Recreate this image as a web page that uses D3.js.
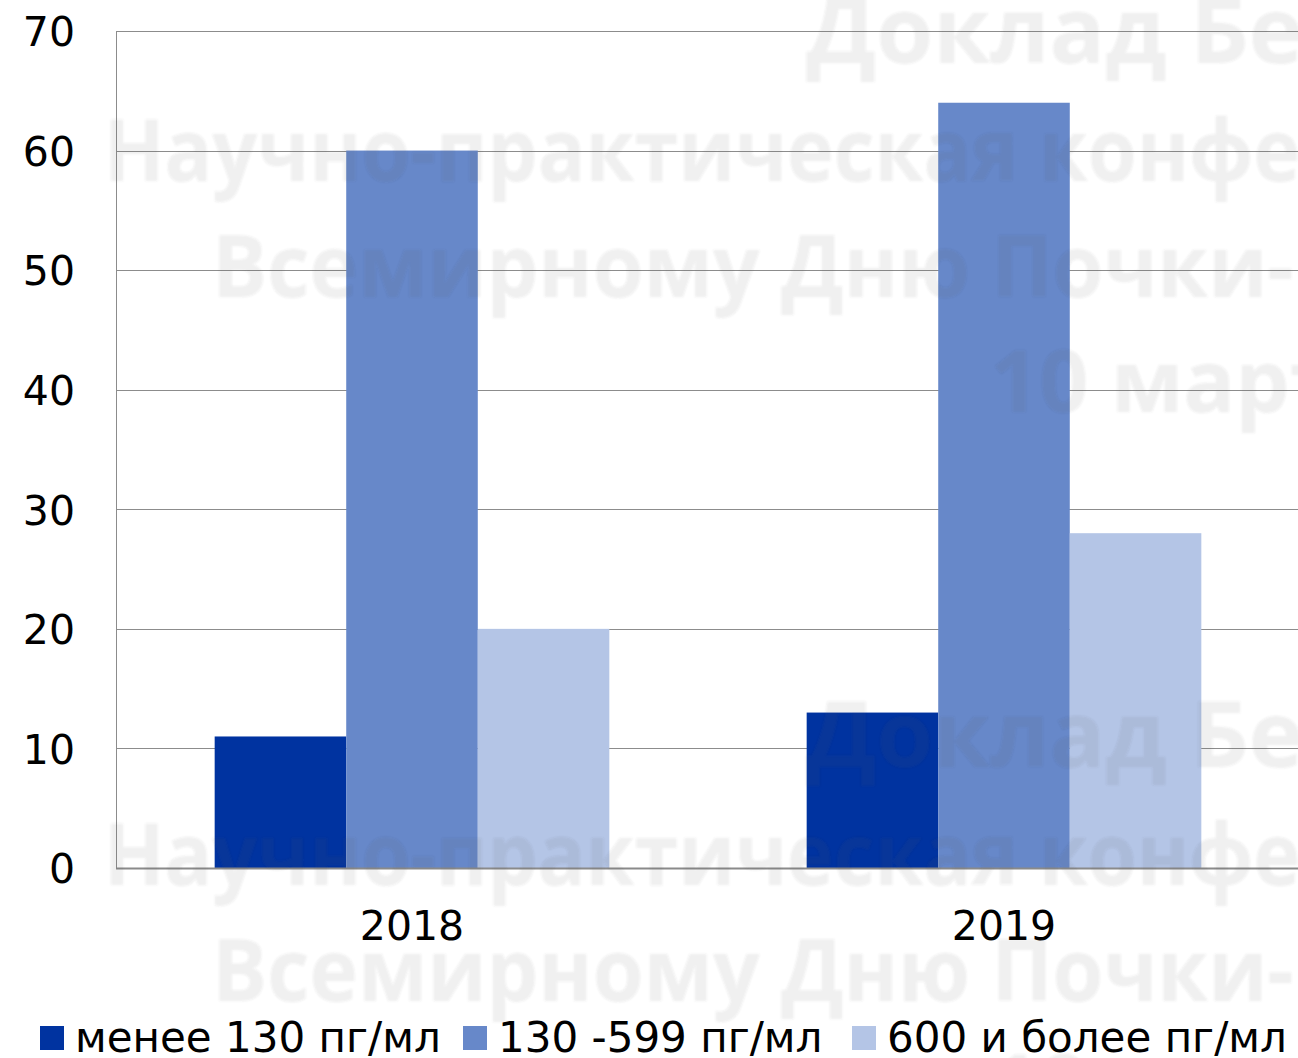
<!DOCTYPE html>
<html>
<head>
<meta charset="utf-8">
<script src="https://cdn.jsdelivr.net/npm/d3@7/dist/d3.min.js"></script>
<style>
  html, body { margin: 0; padding: 0; background: #ffffff; }
  svg { display: block; }
</style>
</head>
<body>
<div id="chart"></div>
<script>
// Chart data
const years = ["2018", "2019"];
const seriesNames = ["менее 130 пг/мл", "130 -599 пг/мл", "600 и более пг/мл"];
const lowValues = [11, 13];
const midValues = [60, 64];
const highValues = [20, 28];
const yTicks = [0, 10, 20, 30, 40, 50, 60, 70];
const seriesColors = ["#0033a0", "#6788c9", "#b4c5e6"];

// Background watermark lines
const watermarkLines = ["Доклад Бе", "Научно-практическая конфе", "Всемирному Дню Почки-", "10 марта"];

const W = 1298, H = 1058;
const margin = { left: 116, right: -2, top: 31, bottom: 190 };
const plotRight = W - margin.right;
const plotBottom = H - margin.bottom;

const svg = d3.select("#chart").append("svg")
  .attr("width", W).attr("height", H)
  .style("font-family", "'DejaVu Sans', Verdana, sans-serif");

const valuesBySeries = [lowValues, midValues, highValues];

const x0 = d3.scaleBand().domain(years).range([margin.left, plotRight]).padding(0);
const groupWidth = x0.bandwidth() * 2 / 3;
const x1 = d3.scaleBand().domain(d3.range(seriesNames.length)).range([0, groupWidth]).padding(0);
const y = d3.scaleLinear().domain([0, 70]).range([plotBottom, margin.top]);

// Horizontal gridlines
svg.append("g")
  .selectAll("line")
  .data(yTicks.filter(d => d > 0))
  .join("line")
  .attr("x1", margin.left).attr("x2", W)
  .attr("y1", d => Math.round(y(d)) + 0.5).attr("y2", d => Math.round(y(d)) + 0.5)
  .attr("stroke", "#8c8c8c").attr("stroke-width", 1);

// Bars
const groups = svg.append("g")
  .selectAll("g")
  .data(years)
  .join("g")
  .attr("transform", d => `translate(${x0(d) + (x0.bandwidth() - groupWidth) / 2},0)`);

groups.selectAll("rect")
  .data((d, i) => valuesBySeries.map((vals, s) => ({ s, v: vals[i] })))
  .join("rect")
  .attr("x", d => x1(d.s))
  .attr("width", x1.bandwidth())
  .attr("y", d => y(d.v))
  .attr("height", d => y(0) - y(d.v))
  .attr("fill", d => seriesColors[d.s]);

// Axis lines
svg.append("line")
  .attr("x1", margin.left + 0.5).attr("x2", margin.left + 0.5)
  .attr("y1", margin.top).attr("y2", plotBottom)
  .attr("stroke", "#8c8c8c").attr("stroke-width", 1);
svg.append("line")
  .attr("x1", margin.left).attr("x2", W)
  .attr("y1", plotBottom + 0.5).attr("y2", plotBottom + 0.5)
  .attr("stroke", "#8a8a8a").attr("stroke-width", 2);

// Y axis labels
const yAxis = d3.axisLeft(y).tickValues(yTicks).tickSize(0).tickPadding(0);
const yg = svg.append("g").attr("transform", `translate(${75},0)`).call(yAxis);
yg.select(".domain").remove();
yg.selectAll("text")
  .attr("x", 0).attr("dy", "0.36em")
  .style("font-family", "'DejaVu Sans', Verdana, sans-serif")
  .style("font-size", "41px").attr("fill", "#000");

// X axis labels
const xAxis = d3.axisBottom(x0).tickSize(0).tickPadding(0);
const xg = svg.append("g").attr("transform", `translate(0,${plotBottom})`).call(xAxis);
xg.select(".domain").remove();
xg.selectAll("text")
  .attr("y", 72).attr("dy", 0)
  .style("font-family", "'DejaVu Sans', Verdana, sans-serif")
  .style("font-size", "41px").attr("fill", "#000");

// Legend
const legendX = [40, 463, 852];
const legend = svg.append("g")
  .selectAll("g")
  .data(seriesNames)
  .join("g")
  .attr("transform", (d, i) => `translate(${legendX[i]},0)`);
legend.append("rect")
  .attr("x", 0).attr("y", 1026).attr("width", 24).attr("height", 24)
  .attr("fill", (d, i) => seriesColors[i]);
legend.append("text")
  .attr("x", 35).attr("y", 1052)
  .style("font-size", "42px")
  .attr("fill", "#000")
  .text(d => d);

// Watermark overlay
const defs = svg.append("defs");
const f = defs.append("filter").attr("id", "soft")
  .attr("x", "-5%").attr("y", "-20%").attr("width", "110%").attr("height", "140%");
f.append("feGaussianBlur").attr("stdDeviation", 1.2);

const wmX = [806, 104, 212, 990];
const wmBase = [63, 181, 297, 412];
const wmSize = [92, 86, 86, 86];
const wmStretch = [1, 0.92, 0.955, 1];
const wm = svg.append("g")
  .attr("filter", "url(#soft)")
  .style("font-family", "'Open Sans', sans-serif")
  .style("font-weight", 700)
  .attr("fill", "#4a4a4a").attr("fill-opacity", 0.09);
[0, 704].forEach(off => {
  wm.append("g").selectAll("text")
    .data(watermarkLines)
    .join("text")
    .attr("transform", (d, i) => `translate(${wmX[i]},${wmBase[i] + off}) scale(${wmStretch[i]},1)`)
    .style("font-size", (d, i) => wmSize[i] + "px")
    .text(d => d);
});
</script>
</body>
</html>
